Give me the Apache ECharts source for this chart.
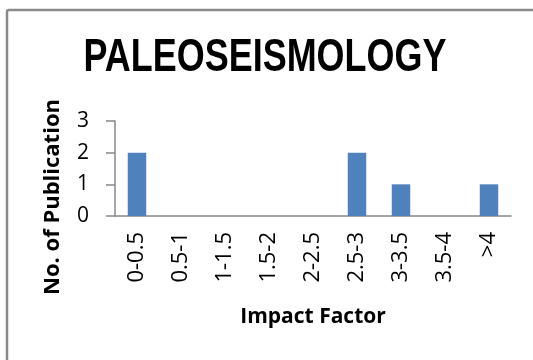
<!DOCTYPE html>
<html>
<head>
<meta charset="utf-8">
<script src="https://cdn.jsdelivr.net/npm/echarts@6/dist/echarts.min.js"></script>
<style>html,body{margin:0;padding:0;background:#fff}#c{width:533px;height:360px}</style>
</head>
<body>
<div id="c"></div>
<script>
var categories = ['0-0.5', '0.5-1', '1-1.5', '1.5-2', '2-2.5', '2.5-3', '3-3.5', '3.5-4', '>4'];
var publications = [2, 0, 0, 0, 0, 2, 1, 0, 1];
var yTicks = [0, 1, 2, 3];
var titleText = 'PALEOSEISMOLOGY';
var xName = 'Impact Factor';
var yName = 'No. of Publication';

var chart = echarts.init(document.getElementById('c'), null, {renderer: 'canvas'});
chart.setOption({
  animation: false,
  backgroundColor: '#ffffff',
  graphic: [
    {type: 'rect', shape: {x: 7, y: 10, width: 620, height: 420, r: 2}, style: {fill: 'none', stroke: '#8a8a8a', lineWidth: 2.5}, silent: true},
    {type: 'text', x: 265, y: 58, scaleX: 0.765, scaleY: 1,
     style: {text: titleText, fontFamily: '"Liberation Sans", Arial, sans-serif', fontWeight: 'bold', fontSize: 47, fill: '#000', align: 'center', verticalAlign: 'middle'}},
    {type: 'text', x: 53, y: 197, rotation: Math.PI / 2,
     style: {text: yName, fontFamily: '"Open Sans", sans-serif', fontWeight: 'bold', fontSize: 22, fill: '#000', align: 'center', verticalAlign: 'middle'}}
  ],
  grid: {left: 115, right: 22, top: 121, bottom: 144, containLabel: false},
  xAxis: {
    type: 'category',
    data: categories,
    name: xName,
    nameLocation: 'middle',
    nameGap: 91,
    nameTextStyle: {fontFamily: '"Open Sans", sans-serif', fontWeight: 'bold', fontSize: 21, color: '#000'},
    axisLine: {lineStyle: {color: '#888888', width: 1.5}},
    axisTick: {show: false},
    axisLabel: {rotate: 90, margin: 16, interval: 0, fontFamily: '"Open Sans", sans-serif', fontSize: 22, color: '#000'}
  },
  yAxis: {
    type: 'value',
    min: yTicks[0],
    max: yTicks[yTicks.length - 1],
    interval: 1,
    axisLine: {show: true, lineStyle: {color: '#888888', width: 1.5}},
    axisTick: {show: true, inside: false, length: 9, lineStyle: {color: '#888888', width: 1.5}},
    splitLine: {show: false},
    axisLabel: {margin: 26, fontFamily: '"Open Sans", sans-serif', fontSize: 21, color: '#000'}
  },
  series: [{
    type: 'bar',
    data: publications,
    barWidth: '42%',
    itemStyle: {color: '#4F81BD'}
  }]
});
</script>
</body>
</html>
